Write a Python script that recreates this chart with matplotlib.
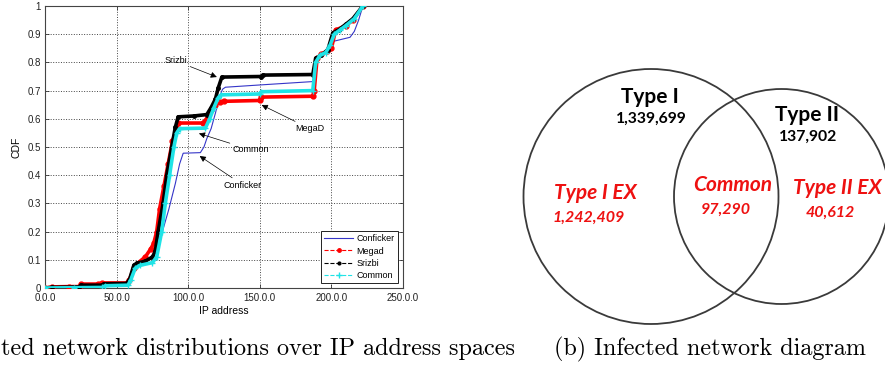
import matplotlib
matplotlib.use("Agg")
import matplotlib.pyplot as plt
from matplotlib.lines import Line2D
from matplotlib.patches import Circle

# ---- CDF data ----
conficker_x = [0, 5, 24, 26, 40, 42, 57, 59, 62, 65, 72, 77, 82, 86.5, 91, 94, 96.5, 108.5, 111, 113, 116, 119, 122, 124,
               126, 150, 187, 189, 192, 196, 200, 213, 216, 219, 222]
conficker_y = [0, 0.002, 0.004, 0.008, 0.01, 0.015, 0.016, 0.03, 0.075, 0.088, 0.1, 0.125, 0.2, 0.28, 0.37, 0.44, 0.478,
               0.48, 0.5, 0.53, 0.565, 0.62, 0.68, 0.705, 0.712, 0.72, 0.732, 0.80, 0.82, 0.84, 0.873, 0.889, 0.91,
               0.95, 1.0]

megad_x = [0, 5, 17, 24, 25, 37, 40, 57, 59, 62, 64, 70, 74, 76, 78, 80, 83, 86, 89, 92, 93, 110, 113, 116, 119, 122,
           125, 150, 151, 187, 188, 190, 193, 197, 200, 203, 210, 215, 222]
megad_y = [0, 0.004, 0.005, 0.005, 0.014, 0.014, 0.018, 0.018, 0.03, 0.07, 0.085, 0.11, 0.14, 0.16, 0.2, 0.28, 0.36, 0.44,
           0.52, 0.565, 0.585, 0.585, 0.6, 0.63, 0.65, 0.66, 0.662, 0.665, 0.677, 0.68, 0.70, 0.815, 0.83, 0.84, 0.85,
           0.915, 0.93, 0.95, 1.0]

srizbi_x = [0, 5, 24, 25, 40, 41, 57, 59, 62, 64, 70, 75, 77, 79, 82.5, 85, 88.5, 91, 93, 104, 113, 116, 119, 121, 123.5,
            151, 152, 187, 189, 193, 197.5, 201, 205, 210, 215, 222]
srizbi_y = [0, 0.002, 0.004, 0.01, 0.01, 0.015, 0.016, 0.03, 0.08, 0.088, 0.095, 0.11, 0.13, 0.2, 0.3, 0.4, 0.5, 0.57,
            0.607, 0.61, 0.615, 0.64, 0.67, 0.71, 0.748, 0.75, 0.755, 0.757, 0.815, 0.825, 0.845, 0.905, 0.915, 0.935,
            0.955, 1.0]

common_x = [0, 20, 40, 42, 58, 60, 63, 66, 75, 78, 81.5, 84, 87, 90, 92, 94, 112, 115, 118, 121, 123, 150, 151, 187, 189,
            192, 196, 199, 202, 206, 210, 216, 222]
common_y = [0, 0.001, 0.002, 0.008, 0.01, 0.03, 0.07, 0.08, 0.09, 0.11, 0.2, 0.3, 0.4, 0.5, 0.55, 0.565, 0.567, 0.6, 0.64,
            0.675, 0.685, 0.688, 0.696, 0.7, 0.8, 0.825, 0.835, 0.86, 0.9, 0.915, 0.93, 0.955, 1.0]

x_ticks = [0, 50, 100, 150, 200, 250]
x_tick_labels = ["0.0.0", "50.0.0", "100.0.0", "150.0.0", "200.0.0", "250.0.0"]
y_ticks = [0, 0.1, 0.2, 0.3, 0.4, 0.5, 0.6, 0.7, 0.8, 0.9, 1]
y_tick_labels = ["0", "0.1", "0.2", "0.3", "0.4", "0.5", "0.6", "0.7", "0.8", "0.9", "1"]

# ---- Venn data ----
set_names = ["Type I", "Type II"]
set_totals = [1339699, 137902]
region_names = ["Type I EX", "Common", "Type II EX"]
region_counts = [1242409, 97290, 40612]

W, H = 885, 365
fig = plt.figure(figsize=(W / 100, H / 100), dpi=100)

# venn drawn in pixel space on a full-figure axes
vax = fig.add_axes([0, 0, 1, 1])
vax.set_xlim(0, W)
vax.set_ylim(H, 0)
vax.axis("off")

circ_color = "#3a3a3a"
vax.add_patch(Circle((651, 196.5), 127.5, fill=False, ec=circ_color, lw=1.3))
vax.add_patch(Circle((781.5, 196.5), 107.5, fill=False, ec=circ_color, lw=1.3))

vfont = "Lato"
red = "#ee1111"
title_pos = [(650, 97), (807, 115)]
for (px, py), name, n in zip(title_pos, set_names, set_totals):
    vax.text(px, py, name, ha="center", va="center", fontsize=15, fontweight="bold", family=vfont)
    vax.text(px + 1, py + 22, f"{n:,}", ha="center", va="center", fontsize=11.3, fontweight="bold", family=vfont)

region_pos = [(595, 193, 589), (733, 185, 726), (837, 188, 830)]
for (px, py, nx), name, n in zip(region_pos, region_names, region_counts):
    vax.text(px, py, name, ha="center", va="center", fontsize=15, fontweight="bold", style="italic",
             color=red, family=vfont)
    vax.text(nx, py + 25, f"{n:,}", ha="center", va="center", fontsize=11.5, fontweight="bold", style="italic",
             color=red, family=vfont)

# captions (the left one is cut by the figure edge in the original)
cap_font = dict(family="cmr10", fontsize=17.4)
fig.text(1 / W, 1 - 355 / H, "ted network distributions over IP address spaces", ha="left",
         va="baseline", **cap_font)
fig.text(710 / W, 1 - 355 / H, "(b) Infected network diagram", ha="center", va="baseline", **cap_font)

# ---- CDF plot ----
ax = fig.add_axes([45 / W, 1 - 288 / H, (403 - 45) / W, (288 - 6) / H])
blue = "#3535c8"
cyan = "#1fe3e6"

ax.plot(conficker_x, conficker_y, color=blue, lw=0.8, zorder=3)
ax.plot(megad_x, megad_y, color="red", lw=2.6, zorder=4)
ax.plot(megad_x, megad_y, color="red", lw=0.8, ls="--", marker="o", ms=3.5, zorder=4)
ax.plot(srizbi_x, srizbi_y, color="black", lw=2.6, zorder=5)
ax.plot(srizbi_x, srizbi_y, color="black", lw=0.8, ls="--", marker=".", ms=5, zorder=5)
ax.plot(common_x, common_y, color=cyan, lw=2.6, zorder=6)
ax.plot(common_x, common_y, color=cyan, lw=0.8, ls="--", marker="+", ms=4, zorder=6)

ax.set_xlim(0, 250)
ax.set_ylim(0, 1)
ax.set_xticks(x_ticks)
ax.set_xticklabels(x_tick_labels)
ax.set_yticks(y_ticks)
ax.set_yticklabels(y_tick_labels)
tfont = "Liberation Sans"
for lab in ax.get_xticklabels() + ax.get_yticklabels():
    lab.set_family(tfont)
    lab.set_fontsize(7)
ax.tick_params(direction="in", length=3, width=0.6, top=True, right=True, colors="#333333",
               labelcolor="#222222")
ax.tick_params(axis="x", pad=3.5)
ax.tick_params(axis="y", pad=3)
ax.grid(True, ls=":", color="#444444", lw=0.7)
for s in ax.spines.values():
    s.set_color("#444444")
    s.set_linewidth(0.8)
ax.set_xlabel("IP address", family=tfont, fontsize=7.5, labelpad=2)
ax.set_ylabel("CDF", family=tfont, fontsize=7.5, labelpad=4)

arrow = dict(arrowstyle="-|>", color="black", lw=0.5, mutation_scale=9, shrinkA=0, shrinkB=0)
afont = dict(family=tfont, fontsize=6.5)
ax.annotate("Srizbi", xy=(120, 0.748), xytext=(91.5, 0.805), ha="center", va="center",
            arrowprops=arrow, zorder=8, **afont)
ax.annotate("MegaD", xy=(151.3, 0.649), xytext=(185, 0.565), ha="center", va="center",
            arrowprops=arrow, zorder=8, **afont)
ax.annotate("Common", xy=(107.5, 0.548), xytext=(131, 0.49), ha="left", va="center",
            arrowprops=arrow, zorder=8, **afont)
ax.annotate("Conficker", xy=(108, 0.468), xytext=(125, 0.365), ha="left", va="center",
            arrowprops=arrow, zorder=8, **afont)

handles = [
    Line2D([], [], color=blue, lw=0.8),
    Line2D([], [], color="red", lw=0.8, ls="--", marker="o", ms=2.5),
    Line2D([], [], color="black", lw=0.8, ls="--", marker=".", ms=4),
    Line2D([], [], color=cyan, lw=0.8, ls="--", marker="+", ms=4),
]
leg = ax.legend(handles, ["Conficker", "Megad", "Srizbi", "Common"], loc="lower right", fancybox=False,
                framealpha=1, edgecolor="#222222", prop=dict(family=tfont, size=6.5), borderaxespad=0.5,
                handlelength=3.2, labelspacing=0.35, borderpad=0.4, handletextpad=0.4)
leg.get_frame().set_linewidth(0.7)
leg.set_zorder(10)

fig.savefig("out.png", dpi=100)
